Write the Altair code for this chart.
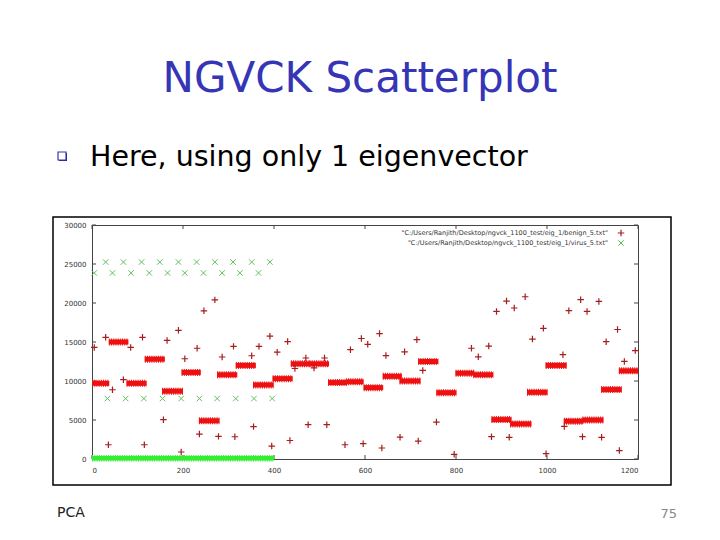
import altair as alt
import pandas as pd

# ---------------- data ----------------
x_ticks = [0, 200, 400, 600, 800, 1000, 1200]
y_ticks = [0, 5000, 10000, 15000, 20000, 25000, 30000]

# dense benign clusters (drawn as thick bands of overlapping "+")
cluster_start = [0, 37, 76, 116, 154, 197, 235, 275, 316, 354, 397, 437, 478, 519, 558,
                 597, 639, 676, 717, 757, 799, 838, 878, 919, 956, 997, 1037, 1078, 1119, 1158]
cluster_end = [38, 80, 120, 160, 200, 239, 280, 319, 360, 399, 441, 480, 521, 560, 597,
               640, 681, 722, 761, 801, 840, 882, 922, 966, 1001, 1043, 1080, 1124, 1164, 1200]
cluster_level = [9700, 15000, 9700, 12800, 8700, 11100, 4900, 10800, 12000, 9500, 10300, 12200, 12200, 9800, 9900,
                 9150, 10600, 10000, 12500, 8500, 11000, 10800, 5050, 4500, 8550, 12000, 4850, 5000, 8900, 11300]

# scattered benign points
benign_x = [5, 30, 36, 45, 69, 85, 111, 115, 157, 165, 190, 196, 204, 231, 236, 246, 270, 278, 286, 311,
            314, 351, 355, 367, 391, 395, 407, 430, 435, 446, 470, 475, 488, 511, 516, 556, 568, 592, 596, 606,
            632, 637, 646, 677, 687, 714, 717, 727, 757, 796, 834, 849, 872, 878, 889, 911, 917, 928, 952, 968,
            992, 998, 1035, 1038, 1048, 1074, 1078, 1088, 1114, 1120, 1130, 1155, 1159, 1170, 1194]
benign_y = [14300, 15600, 1830, 8880, 10170, 14300, 15600, 1830, 5040, 15200, 16500, 900, 12850, 14200, 3200, 19000, 20400, 2900, 13080, 14440,
            2850, 13240, 4150, 14440, 15750, 1660, 13700, 15050, 2370, 11600, 12950, 4400, 11670, 12950, 4400, 1830, 14010, 15450, 1960, 14700,
            16080, 1410, 13260, 2800, 13740, 15300, 2300, 11360, 4740, 600, 14200, 13100, 14480, 2860, 18920, 20250, 2780, 19360, 20800, 15380,
            16750, 680, 13370, 4180, 19010, 20420, 2860, 18920, 20200, 2780, 15040, 16600, 1080, 12510, 13900]

# virus points
virus_x = [30, 69, 109, 149, 190, 230, 270, 310, 351, 391,
           5, 45, 86, 126, 166, 204, 245, 286, 325, 366,
           34, 74, 114, 155, 196, 236, 275, 316, 356, 396]
virus_y = [25250] * 10 + [23850] * 10 + [7750] * 10
# dense virus band near zero
band_start = [0]
band_end = [400]
band_level = [100]

legend_labels = ['"C:/Users/Ranjith/Desktop/ngvck_1100_test/eig_1/benign_5.txt"',
                 '"C:/Users/Ranjith/Desktop/ngvck_1100_test/eig_1/virus_5.txt"']

# ---------------- chart ----------------
W, H = 546, 234
xs = alt.Scale(domain=[0, 1200], nice=False, zero=False)
ys = alt.Scale(domain=[0, 30000], nice=False)
PLUS = "M-1,0L1,0M0,-1L0,1"
CROSS = "M-1,-1L1,1M-1,1L1,-1"
RED_PT = "#a81c1c"
RED_BAND = "#ee1111"
GREEN_PT = "#60c060"
GREEN_BAND = "#33ee33"

xaxis = alt.Axis(values=x_ticks, format="d", ticks=False, tickSize=0, domain=False, grid=False, labelFontSize=7,
                 labelColor="#333333", labelPadding=7, labelFont="DejaVu Sans", title=None)
yaxis = alt.Axis(values=y_ticks, format="d", ticks=False, tickSize=0, domain=False, grid=False, labelFontSize=7,
                 labelColor="#333333", labelPadding=6, labelFont="DejaVu Sans", title=None)


def X(f):
    return alt.X(f, type="quantitative", scale=xs, axis=xaxis)


def Y(f):
    return alt.Y(f, type="quantitative", scale=ys, axis=yaxis)


clusters = pd.DataFrame({"x0": cluster_start, "x1": cluster_end, "y": cluster_level})
benign = pd.DataFrame({"x": benign_x, "y": benign_y})
virus = pd.DataFrame({"x": virus_x, "y": virus_y})
band = pd.DataFrame({"x0": band_start, "x1": band_end, "y": band_level})
xt = pd.DataFrame({"v": x_ticks})
yt = pd.DataFrame({"v": y_ticks})

one = pd.DataFrame({"t": [""]})

img_border = alt.Chart(one).mark_rect(fillOpacity=0, stroke="black", strokeWidth=1.5).encode(
    x=alt.value(-39), x2=alt.value(579), y=alt.value(-8), y2=alt.value(260))

tick_b = alt.Chart(xt).mark_rule(color="#444444").encode(x=X("v"), y=alt.value(H), y2=alt.value(H - 4))
tick_t = alt.Chart(xt).mark_rule(color="#444444").encode(x=X("v"), y=alt.value(0), y2=alt.value(4))
tick_l = alt.Chart(yt).mark_rule(color="#444444").encode(y=Y("v"), x=alt.value(0), x2=alt.value(4))
tick_r = alt.Chart(yt).mark_rule(color="#444444").encode(y=Y("v"), x=alt.value(W), x2=alt.value(W - 4))

band_layer = alt.Chart(band).mark_rule(color=GREEN_BAND, strokeWidth=4.5).encode(
    x=X("x0"), x2="x1", y=Y("y"))
band_tex = alt.Chart(band).mark_rule(color=GREEN_BAND, strokeWidth=6.5, strokeDash=[1, 1.3]).encode(
    x=X("x0"), x2="x1", y=Y("y"))
virus_layer = alt.Chart(virus).mark_point(shape=CROSS, size=30, color=GREEN_PT, strokeWidth=1,
                                          filled=False, opacity=1).encode(x=X("x"), y=Y("y"))
cluster_layer = alt.Chart(clusters).mark_rule(color=RED_BAND, strokeWidth=5).encode(
    x=X("x0"), x2="x1", y=Y("y"))
cluster_tex = alt.Chart(clusters).mark_rule(color=RED_BAND, strokeWidth=7, strokeDash=[1, 1.2]).encode(
    x=X("x0"), x2="x1", y=Y("y"))
benign_layer = alt.Chart(benign).mark_point(shape=PLUS, size=42, color=RED_PT, strokeWidth=1.2,
                                            filled=False, opacity=1).encode(x=X("x"), y=Y("y"))

leg1 = alt.Chart(pd.DataFrame({"t": [legend_labels[0]]})).mark_text(
    align="right", baseline="middle", fontSize=6.5, font="DejaVu Sans", color="#333333").encode(
    text="t:N", x=alt.value(516), y=alt.value(8))
leg2 = alt.Chart(pd.DataFrame({"t": [legend_labels[1]]})).mark_text(
    align="right", baseline="middle", fontSize=6.5, font="DejaVu Sans", color="#333333").encode(
    text="t:N", x=alt.value(516), y=alt.value(18))
leg_s1 = alt.Chart(one).mark_point(shape=PLUS, size=42, color=RED_PT, strokeWidth=1.2, filled=False,
                                   opacity=1).encode(x=alt.value(529), y=alt.value(8))
leg_s2 = alt.Chart(one).mark_point(shape=CROSS, size=30, color=GREEN_PT, strokeWidth=1, filled=False,
                                   opacity=1).encode(x=alt.value(529), y=alt.value(18))

title = alt.Chart(pd.DataFrame({"t": ["NGVCK Scatterplot"]})).mark_text(
    align="center", baseline="alphabetic", fontSize=42, font="DejaVu Sans", color="#3535b5").encode(
    text="t:N", x=alt.value(268), y=alt.value(-133))
bullet_shadow = alt.Chart(one).mark_point(shape="square", size=64, filled=True, color="#22228a",
                                          opacity=1).encode(x=alt.value(-29), y=alt.value(-68))
bullet_box = alt.Chart(one).mark_point(shape="square", size=64, filled=True, fill="white", stroke="#3535b5",
                                       strokeWidth=1.2, opacity=1).encode(x=alt.value(-30), y=alt.value(-69))
bullet_text = alt.Chart(pd.DataFrame({"t": ["Here, using only 1 eigenvector"]})).mark_text(
    align="left", baseline="alphabetic", fontSize=28.5, font="DejaVu Sans", color="black").encode(
    text="t:N", x=alt.value(-2), y=alt.value(-59))
footer = alt.Chart(pd.DataFrame({"t": ["PCA"]})).mark_text(
    align="left", baseline="alphabetic", fontSize=14, font="DejaVu Sans", color="#222222").encode(
    text="t:N", x=alt.value(-35), y=alt.value(292))
page = alt.Chart(pd.DataFrame({"t": ["75"]})).mark_text(
    align="right", baseline="alphabetic", fontSize=13, font="DejaVu Sans", color="#888888").encode(
    text="t:N", x=alt.value(585), y=alt.value(293))

chart = alt.layer(
    img_border, tick_b, tick_t, tick_l, tick_r,
    band_layer, band_tex, virus_layer, cluster_layer, cluster_tex, benign_layer,
    leg1, leg2, leg_s1, leg_s2,
    title, bullet_shadow, bullet_box, bullet_text, footer, page,
).properties(
    width=W, height=H,
    autosize=alt.AutoSizeParams(type="none"),
    padding={"left": 84, "top": 217, "right": 74, "bottom": 73},
    background="white",
).configure_view(stroke="#444444", strokeWidth=1)

chart.save("out.html", embed_options={"renderer": "svg", "actions": False})
